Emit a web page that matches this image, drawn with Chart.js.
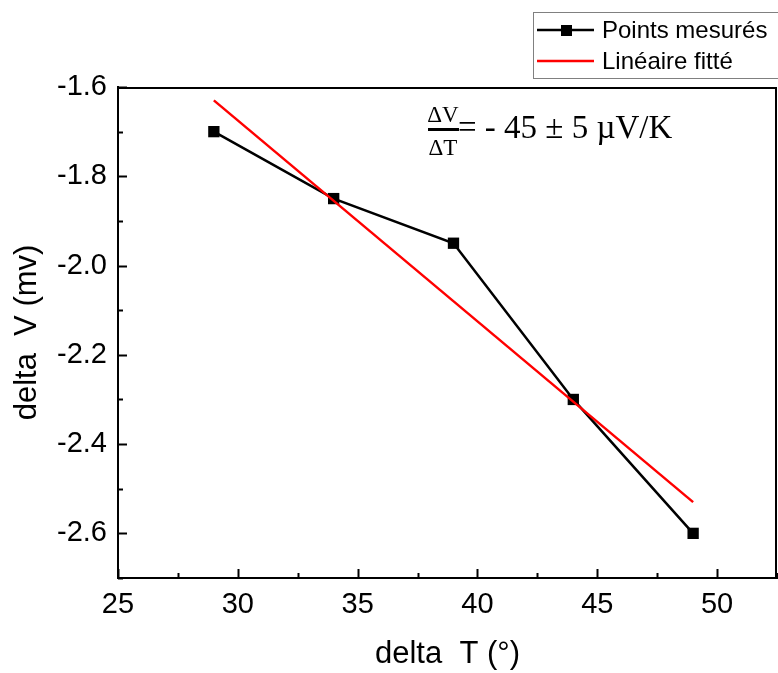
<!DOCTYPE html>
<html>
<head>
<meta charset="utf-8">
<script src="https://cdn.jsdelivr.net/npm/chart.js@4"></script>
<style>
  html, body { margin: 0; padding: 0; background: #fff; }
  #wrap { width: 778px; height: 673px; position: relative; }
</style>
</head>
<body>
<div id="wrap"><canvas id="c"></canvas></div>
<script>
// ---- data ----
const deltaT = [29, 34, 39, 44, 49];
const deltaV = [-1.70, -1.85, -1.95, -2.30, -2.60];
const fitT = [29, 49];
const fitV = [-1.63, -2.53];
const xTickValues = [25, 30, 35, 40, 45, 50];
const yTickValues = [-2.6, -2.4, -2.2, -2.0, -1.8, -1.6];
const seriesLabels = ['Points mesurés', 'Linéaire fitté'];
const xTitle = 'delta  T (°)';
const yTitle = 'delta  V (mv)';
const annotationText = '= - 45 ± 5 µV/K';

const SANS = "'Liberation Sans', Arial, sans-serif";
const SERIF = "'Liberation Serif', 'Times New Roman', serif";

const decor = {
  id: 'decor',
  afterDraw(chart) {
    const { ctx, chartArea: a, scales: { x, y } } = chart;
    ctx.save();
    ctx.strokeStyle = '#000';
    ctx.lineWidth = 2;
    // top & right frame
    ctx.beginPath();
    ctx.moveTo(a.left, a.top + 1);
    ctx.lineTo(a.right - 1, a.top + 1);
    ctx.lineTo(a.right - 1, a.bottom);
    ctx.stroke();
    // x ticks (inward)
    for (let v = x.min; v <= x.max + 1e-9; v += 2.5) {
      const px = Math.round(x.getPixelForValue(v)) + 0.5;
      const major = Math.abs(v / 5 - Math.round(v / 5)) < 1e-6;
      const len = major ? 9 : 5;
      ctx.beginPath();
      ctx.moveTo(px, a.bottom);
      ctx.lineTo(px, a.bottom - len);
      ctx.stroke();
    }
    // y ticks (inward)
    for (let k = 0; k <= 11; k++) {
      const v = -2.7 + k * 0.1;
      const py = Math.round(y.getPixelForValue(v)) + 0.5;
      const major = k % 2 === 1;
      const len = major ? 9 : 5;
      ctx.beginPath();
      ctx.moveTo(a.left, py);
      ctx.lineTo(a.left + len, py);
      ctx.stroke();
    }
    // legend
    ctx.lineWidth = 1;
    ctx.strokeStyle = '#808080';
    ctx.strokeRect(533.5, 12.5, 260, 66);
    const ds = chart.data.datasets;
    const rows = [
      { ds: ds[0], y: 30, marker: true },
      { ds: ds[1], y: 61, marker: false }
    ];
    ctx.font = '24px ' + SANS;
    ctx.textBaseline = 'middle';
    ctx.textAlign = 'left';
    rows.forEach(r => {
      ctx.strokeStyle = r.ds.borderColor;
      ctx.lineWidth = 2.5;
      ctx.beginPath();
      ctx.moveTo(537, r.y);
      ctx.lineTo(594, r.y);
      ctx.stroke();
      if (r.marker) {
        ctx.fillStyle = '#000';
        ctx.fillRect(561, r.y - 5, 11, 11);
      }
      ctx.fillStyle = '#000';
      ctx.fillText(r.ds.label, 602, r.y + 1);
    });
    // annotation
    ctx.fillStyle = '#000';
    ctx.textAlign = 'center';
    ctx.textBaseline = 'alphabetic';
    ctx.font = '23px ' + SERIF;
    ctx.fillText('ΔV', 443, 122);
    ctx.fillRect(428, 128, 31, 3);
    ctx.fillText('ΔT', 443, 155);
    ctx.textAlign = 'left';
    ctx.font = '33px ' + SERIF;
    ctx.fillText(annotationText, 458, 138);
    ctx.restore();
  }
};

new Chart(document.getElementById('c'), {
  type: 'line',
  data: {
    datasets: [
      {
        label: seriesLabels[0],
        data: deltaT.map((t, i) => ({ x: t, y: deltaV[i] })),
        borderColor: '#000000',
        backgroundColor: '#000000',
        borderWidth: 2.5,
        pointStyle: 'rect',
        pointRadius: 8,
        pointBorderWidth: 0,
        pointHoverRadius: 8,
        tension: 0,
        clip: false,
        order: 1
      },
      {
        label: seriesLabels[1],
        data: fitT.map((t, i) => ({ x: t, y: fitV[i] })),
        borderColor: '#ff0000',
        backgroundColor: '#ff0000',
        borderWidth: 2.5,
        pointRadius: 0,
        tension: 0,
        order: 0
      }
    ]
  },
  options: {
    responsive: true,
    maintainAspectRatio: false,
    animation: false,
    events: [],
    layout: { autoPadding: false, padding: { top: 87, right: 1, left: 0, bottom: 0 } },
    plugins: { legend: { display: false }, tooltip: { enabled: false } },
    scales: {
      x: {
        type: 'linear',
        min: 25,
        max: 52.5,
        afterBuildTicks: s => { s.ticks = xTickValues.map(v => ({ value: v })); },
        afterFit: s => { s.height = 95; s.paddingRight = 0; s.paddingLeft = 0; },
        grid: { display: false, drawTicks: false },
        border: { display: true, color: '#000', width: 2 },
        ticks: { color: '#000', font: { family: SANS, size: 29 }, padding: 10, maxRotation: 0 },
        title: { display: true, text: xTitle, color: '#000', font: { family: SANS, size: 31 }, padding: { top: 0, bottom: 0 } }
      },
      y: {
        type: 'linear',
        min: -2.7,
        max: -1.6,
        afterBuildTicks: s => { s.ticks = yTickValues.map(v => ({ value: v })); },
        afterFit: s => { s.width = 118; s.paddingTop = 0; s.paddingBottom = 0; },
        grid: { display: false, drawTicks: false },
        border: { display: true, color: '#000', width: 2 },
        ticks: { color: '#000', font: { family: SANS, size: 29 }, padding: 11, callback: v => v.toFixed(1) },
        title: { display: true, text: yTitle, color: '#000', font: { family: SANS, size: 31 }, padding: { top: 9, bottom: 0 } }
      }
    }
  },
  plugins: [decor]
});
</script>
</body>
</html>
